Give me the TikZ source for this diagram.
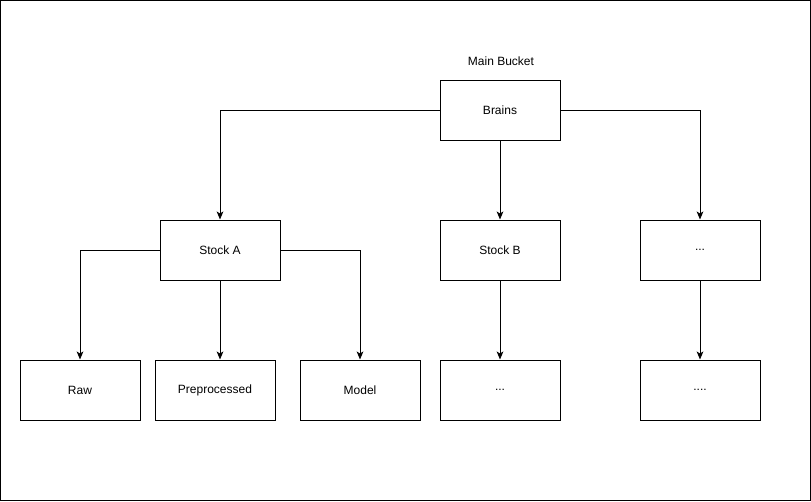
\documentclass[tikz,border=0pt]{standalone}
\usepackage{fontspec}
\setmainfont{Liberation Sans}
\usetikzlibrary{arrows.meta}

\begin{document}
\begin{tikzpicture}[x=0.75pt, y=-0.75pt,
    bucket/.style={draw, line width=0.75pt, minimum width=90pt, minimum height=45pt, inner sep=0pt, font=\fontsize{9}{11}\selectfont},
    link/.style={line width=0.75pt, -{Stealth[length=6pt, width=5pt, inset=1.5pt]}}]
    \useasboundingbox (0,0) rectangle (811,501);
    \draw[line width=0.75pt] (0.5,0.5) rectangle (810,500);

    % Boxes
    \node[font=\fontsize{9}{11}\selectfont] (mainlbl) at (501,61) {Main Bucket};
    \node[bucket] (brains) at (500,110) {Brains};

    \node[bucket] (stocka) at (220,250) {Stock A};
    \node[bucket] (stockb) at (500,250) {Stock B};
    \node[bucket] (stockx) at (700,250) {...};

    \node[bucket] (raw) at (80,390) {Raw};
    \node[bucket] (prep) at (215,390) {Preprocessed};
    \node[bucket] (model) at (360,390) {Model};
    \node[bucket] (subb) at (500,390) {...};
    \node[bucket] (subx) at (700,390) {....};

    % Arrows
    \draw[link] (brains.west) -| (stocka.north);
    \draw[link] (brains.south) -- (stockb.north);
    \draw[link] (brains.east) -| (stockx.north);

    \draw[link] (stocka.west) -| (raw.north);
    \draw[link] (stocka.south) -- (stocka.south |- prep.north);
    \draw[link] (stocka.east) -| (model.north);
    \draw[link] (stockb.south) -- (subb.north);
    \draw[link] (stockx.south) -- (subx.north);
\end{tikzpicture}
\end{document}
